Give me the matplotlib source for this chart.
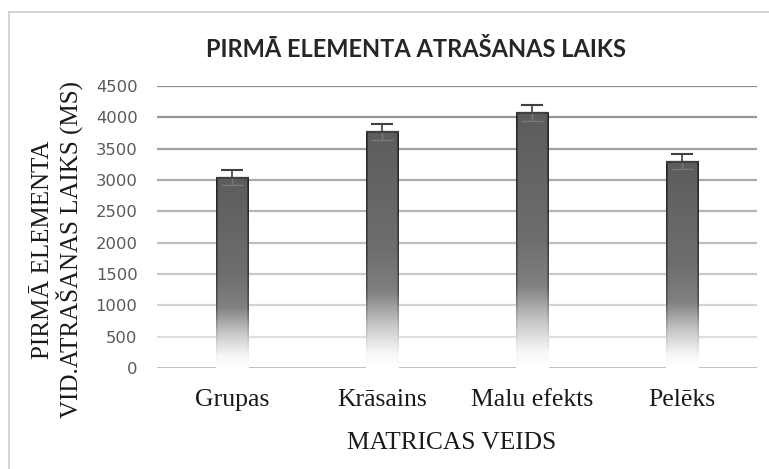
import numpy as np
import matplotlib
matplotlib.use("Agg")
import matplotlib.pyplot as plt
from matplotlib.lines import Line2D

# ---- data ----
categories = ["Grupas", "Krāsains", "Malu efekts", "Pelēks"]
values = [3035, 3770, 4070, 3295]
errors = [120, 130, 133, 112]
yticks = [0, 500, 1000, 1500, 2000, 2500, 3000, 3500, 4000, 4500]
title = "PIRMĀ ELEMENTA ATRAŠANAS LAIKS"
ylabel = "PIRMĀ ELEMENTA\nVID.ATRAŠANAS LAIKS (MS)"
xlabel = "MATRICAS VEIDS"

W, H = 769, 469
fig = plt.figure(figsize=(W / 100, H / 100), dpi=100)
fig.patch.set_facecolor("white")

# axes in pixel coords
L, R, B, T = 157, 757, 368, 86
ax = fig.add_axes([L / W, (H - B) / H, (R - L) / W, (B - T) / H])
for s in ax.spines.values():
    s.set_visible(False)

# gridlines with a grey gradient (darker at top)
top_g, bot_g = 0.55, 0.91
for t in yticks[1:]:
    f = t / yticks[-1]
    g = bot_g + (top_g - bot_g) * f
    ax.axhline(t, color=(g, g, g), lw=1.6, zorder=1)
ax.axhline(0, color="#bfbfbf", lw=1.4, zorder=1)

# gradient bars
bw = 0.22
prof_t = np.array([0.0, 0.06, 0.18, 0.32, 0.5, 1.0])
prof_v = np.array([255, 248, 200, 128, 110, 92]) / 255.0
rows = 300
tt = np.linspace(0, 1, rows)
gray = np.interp(tt, prof_t, prof_v)
cols = 40
img = np.ones((rows, cols, 4))
for c in range(cols):
    gcol = gray.copy()
    if c < 2 or c >= cols - 2:
        gcol = np.clip(1 - (1 - gray) * 1.35, 0, 1)
    img[:, c, 0] = gcol
    img[:, c, 1] = gcol
    img[:, c, 2] = gcol
img = img[::-1]

x = np.arange(len(categories))
for xi, v in zip(x, values):
    ax.imshow(img, extent=[xi - bw / 2, xi + bw / 2, 0, v], aspect="auto",
              interpolation="bilinear", zorder=2)
ax.hlines(values, x - bw / 2, x + bw / 2, color="#3a3a3a", lw=1.6, zorder=3)
ax.set_xlim(-0.5, len(categories) - 0.5)
ax.set_ylim(0, 4500)

errs = np.array(errors)
zeros = np.zeros_like(errs)
# lower half (faint, inside the bar)
ax.errorbar(x, values, yerr=[errs, zeros], fmt="none", ecolor="#7a7a7a",
            elinewidth=1.0, capsize=8, capthick=1.0, zorder=4)
# upper half
ax.errorbar(x, values, yerr=[zeros, errs], fmt="none", ecolor="#404040",
            elinewidth=1.2, capsize=8, capthick=1.5, zorder=5)

# ticks
ax.set_yticks(yticks)
ax.set_yticklabels([str(t) for t in yticks], fontsize=11.8, color="#595959",
                   family="DejaVu Sans")
ax.tick_params(axis="y", length=0, pad=14)
ax.set_xticks(x)
ax.set_xticklabels(categories, fontsize=18.5, color="#1a1a1a",
                   family="Liberation Serif")
ax.tick_params(axis="x", length=0, pad=15)

# texts
fig.text(416 / W, (H - 49.5) / H, title, ha="center", va="center",
         fontsize=17, fontweight="bold", family="Lato", color="#262626")
fig.text(57.5 / W, (H - 250) / H, ylabel, ha="center", va="center",
         rotation=90, fontsize=18, family="Liberation Serif",
         color="#1a1a1a", linespacing=1.03, multialignment="center")
fig.text(452 / W, (H - 443) / H, xlabel, ha="center", va="center",
         fontsize=18.3, family="Liberation Serif", color="#1a1a1a")

# outer chart border
fig.add_artist(Line2D([9 / W, 9 / W], [0, (H - 12) / H], transform=fig.transFigure,
                      color="#d0d0d0", lw=1.3))
fig.add_artist(Line2D([9 / W, 1], [(H - 12) / H, (H - 12) / H],
                      transform=fig.transFigure, color="#d0d0d0", lw=1.3))

fig.savefig("out.png", dpi=100)
